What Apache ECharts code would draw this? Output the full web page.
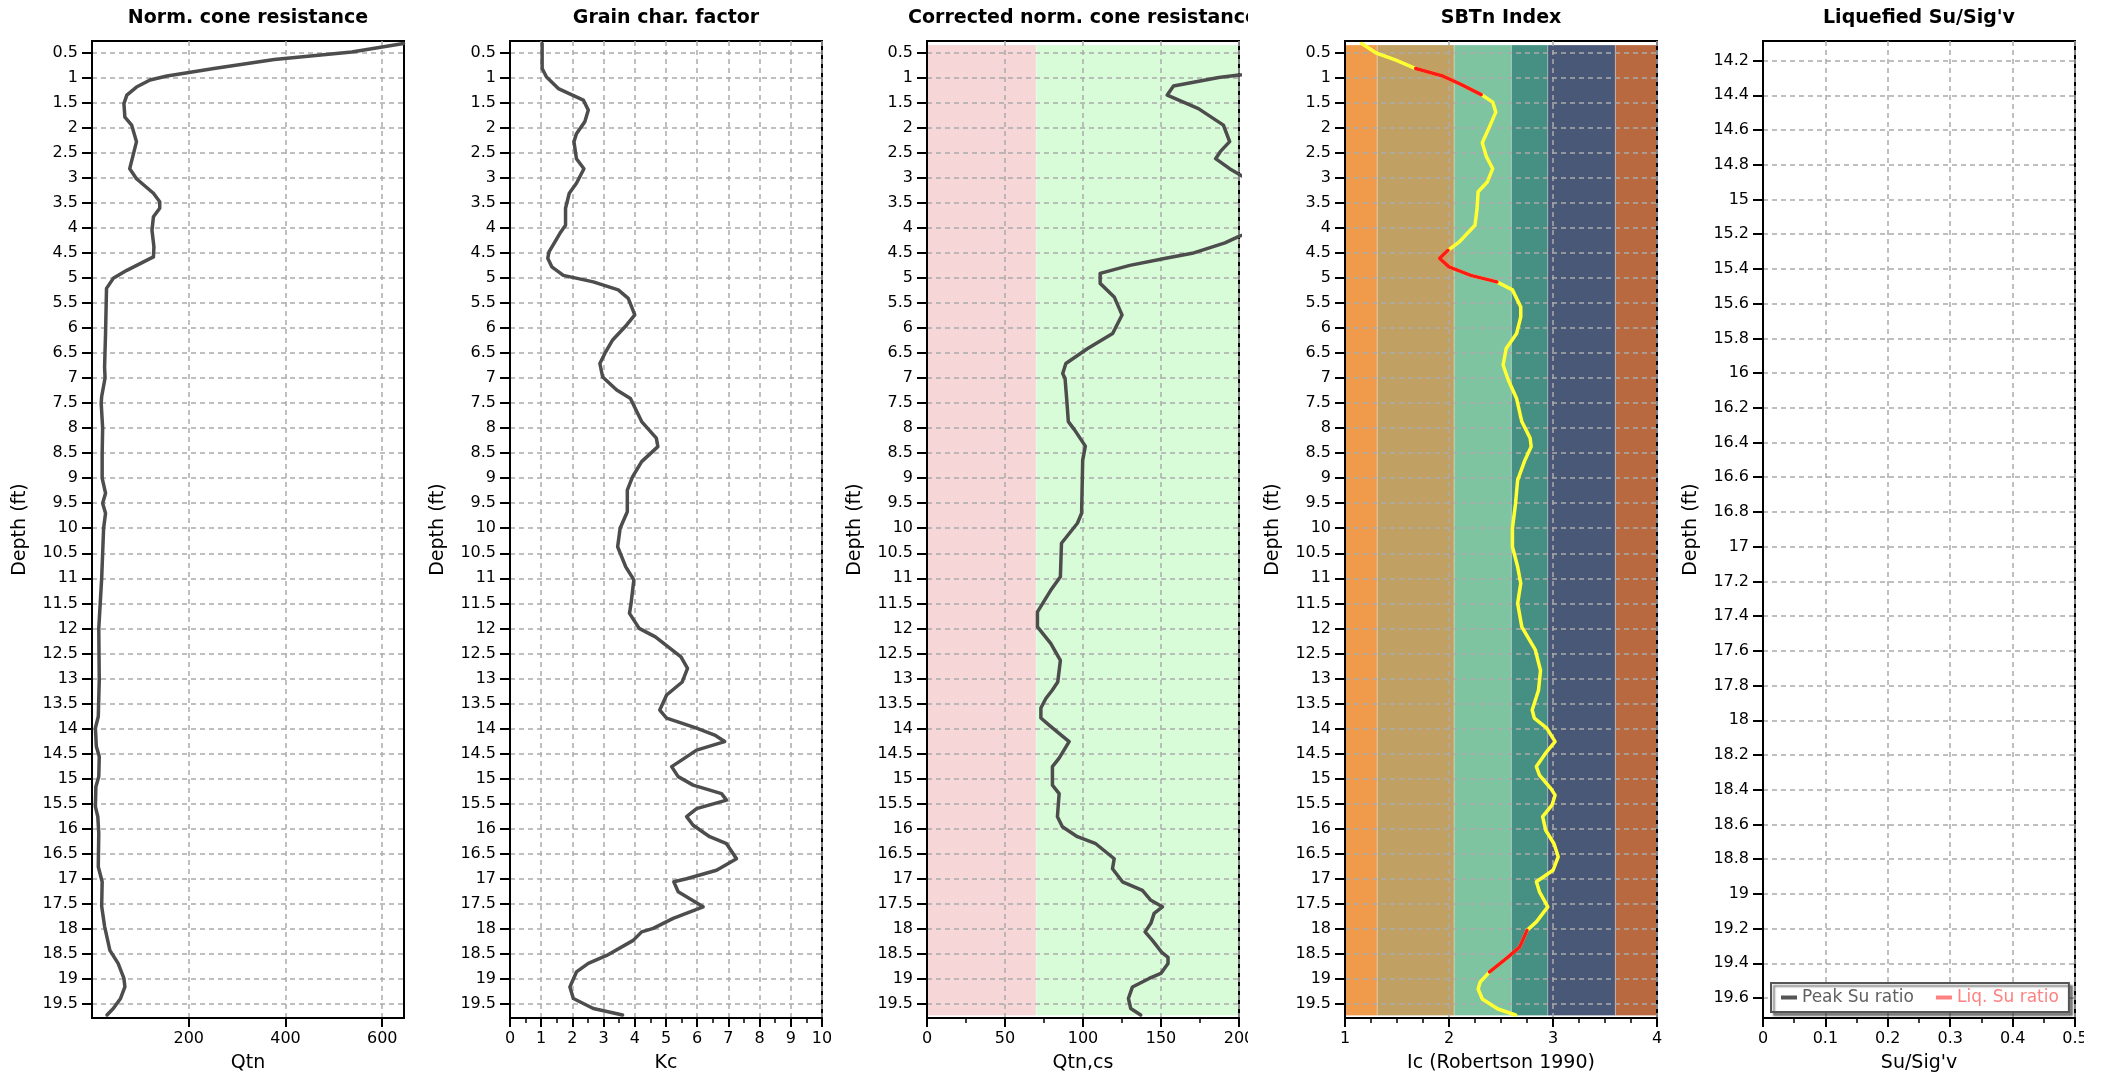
<!DOCTYPE html>
<html><head><meta charset="utf-8">
<script src="https://cdn.jsdelivr.net/npm/echarts@6/dist/echarts.min.js"></script>
<style>
html,body{margin:0;padding:0;background:#fff;width:2109px;height:1081px;overflow:hidden}
.p{position:absolute;top:0;height:1081px;width:413px}
</style></head>
<body>
<div id="p0" class="p" style="left:0px"></div>
<div id="p1" class="p" style="left:418px"></div>
<div id="p2" class="p" style="left:835px"></div>
<div id="p3" class="p" style="left:1253px"></div>
<div id="p4" class="p" style="left:1671px"></div>
<script>
// ---------------- DATA ----------------
const depthTicks = [0.5,1,1.5,2,2.5,3,3.5,4,4.5,5,5.5,6,6.5,7,7.5,8,8.5,9,9.5,10,10.5,11,11.5,12,12.5,13,13.5,14,14.5,15,15.5,16,16.5,17,17.5,18,18.5,19,19.5];
const suDepthTicks = [14.2,14.4,14.6,14.8,15,15.2,15.4,15.6,15.8,16,16.2,16.4,16.6,16.8,17,17.2,17.4,17.6,17.8,18,18.2,18.4,18.6,18.8,19,19.2,19.4,19.6];
const qtnTicks = [200,400,600];

// Panel 1: Norm. cone resistance (Qtn)
const qtnDepth = [0.32,0.49,0.64,0.82,0.97,1.05,1.19,1.35,1.52,1.79,1.95,2.28,2.82,3.02,3.31,3.48,3.61,3.78,4.05,4.38,4.58,4.85,5.01,5.21,6.11,6.78,7.0,7.37,7.5,8.0,8.5,9.0,9.3,9.5,9.7,10.0,10.5,11.0,11.5,12.0,13.03,13.76,13.99,14.36,14.56,14.96,15.16,15.56,15.76,16.09,16.76,17.06,17.55,17.95,18.43,18.69,18.99,19.16,19.39,19.59,19.72];
const qtn = [644,537,377,252,155,120,92,72,66,68,82,92,78,92,127,140,140,127,124,128,127,72,44,30,28,26,27,20,19,22,21,21,28,22,28,24,22,20,17,14,15,13,7,9,15,14,8,7,12,14,13,21,20,26,37,54,66,68,59,44,31];

// Panel 2: Grain char. factor (Kc)
const kcDepth = [0.32,0.82,0.99,1.22,1.45,1.65,1.88,2.12,2.28,2.62,2.82,3.11,3.31,3.61,3.95,4.11,4.28,4.48,4.61,4.78,4.95,5.08,5.24,5.41,5.74,5.94,6.24,6.51,6.71,6.98,7.24,7.41,7.87,8.2,8.37,8.67,8.97,9.24,9.67,10.0,10.37,10.77,11.03,11.5,11.7,12.0,12.17,12.57,12.8,13.07,13.33,13.63,13.79,13.99,14.13,14.26,14.43,14.63,14.76,14.96,15.13,15.3,15.43,15.6,15.76,15.93,16.16,16.3,16.6,16.83,17.0,17.06,17.26,17.56,17.79,17.99,18.06,18.23,18.53,18.69,18.86,19.16,19.39,19.59,19.72];
const kc = [1.03,1.03,1.17,1.55,2.35,2.51,2.40,2.13,2.05,2.13,2.37,2.13,1.90,1.78,1.78,1.60,1.44,1.25,1.21,1.34,1.71,2.67,3.47,3.79,4.0,3.74,3.29,3.04,2.88,2.97,3.42,3.86,4.22,4.69,4.74,4.22,3.93,3.76,3.76,3.53,3.45,3.71,3.97,3.88,3.83,4.14,4.66,5.48,5.69,5.52,5.02,4.80,5.02,5.98,6.56,6.88,5.98,5.50,5.18,5.39,5.87,6.78,6.94,5.98,5.66,5.87,6.40,6.94,7.26,6.62,5.66,5.25,5.39,6.19,5.23,4.59,4.22,3.95,3.10,2.51,2.13,1.92,2.03,2.67,3.61];

// Panel 3: Corrected norm. cone resistance (Qtn,cs)
const qcsDepth = [0.32,0.49,0.64,0.82,0.95,1.0,1.17,1.35,1.62,1.95,2.28,2.48,2.62,2.82,3.02,3.31,3.61,3.95,4.17,4.3,4.51,4.61,4.75,4.91,5.11,5.38,5.74,6.11,6.41,6.71,6.91,7.01,7.44,7.87,8.04,8.36,8.64,9.7,9.9,10.3,10.97,11.24,11.67,11.97,12.3,12.64,13.07,13.23,13.4,13.59,13.79,13.96,14.26,14.59,14.76,15.13,15.3,15.76,15.96,16.16,16.3,16.6,16.8,17.06,17.23,17.43,17.56,17.69,17.89,18.06,18.23,18.47,18.57,18.69,18.89,18.99,19.16,19.39,19.59,19.72];
const qcs = [663,553,388,260,200,187,158,154,174,190,194,188,185,194,205,241,248,220,200,191,170,153,130,111,111,120,125,119,103,89,87,88.5,89.6,90.6,94.7,101.5,99.8,99.1,96.4,86.2,85.5,79.3,70.8,70.8,79.3,85.5,83.8,80.4,76.2,73,73,79.4,91.1,84.7,80.4,80.4,84.7,83.6,86.8,96.4,108.2,120,118.9,125.3,138.1,143.5,150.9,145.6,143.5,139.8,144.5,150.5,154.5,154.5,149.9,142.4,131.7,129.1,130.6,137];
const qcsZones = [0,70,200];          // boundaries of the two zones
const qcsZoneColors = ['#f6d6d6','#d9fcd8'];

// Panel 4: SBTn Index (Ic)
const icDepth = [0.32,0.51,0.65,0.82,0.97,1.12,1.34,1.49,1.69,1.98,2.30,2.58,2.82,3.08,3.28,3.61,3.95,4.28,4.45,4.61,4.78,4.95,5.08,5.24,5.58,5.78,6.11,6.41,6.74,7.04,7.41,7.87,8.2,8.37,8.64,9.04,9.5,10.0,10.37,10.77,11.1,11.5,11.97,12.43,12.84,13.24,13.63,13.79,13.99,14.26,14.46,14.76,14.93,15.2,15.33,15.53,15.76,16.03,16.3,16.56,16.83,17.06,17.26,17.56,17.86,18.03,18.36,18.56,18.76,18.86,19.06,19.2,19.4,19.6,19.72];
const ic = [1.16,1.30,1.49,1.68,1.94,2.10,2.31,2.42,2.45,2.39,2.32,2.36,2.42,2.37,2.28,2.27,2.25,2.10,1.99,1.91,2.00,2.21,2.46,2.61,2.69,2.69,2.65,2.55,2.52,2.57,2.65,2.70,2.78,2.79,2.73,2.66,2.64,2.61,2.61,2.66,2.69,2.66,2.70,2.83,2.88,2.86,2.80,2.82,2.94,3.02,2.94,2.84,2.87,2.98,3.02,2.99,2.90,2.93,3.01,3.05,3.00,2.84,2.87,2.95,2.84,2.75,2.68,2.57,2.45,2.39,2.30,2.28,2.32,2.47,2.64];
const icRedRanges = [[0.82,1.34],[4.45,5.08],[18.03,18.86]];
const icZones = [1,1.31,2.05,2.6,2.95,3.6,4];
const icZoneColors = ['#f09a4b','#c0a063','#7ec4a0','#459082','#4a5878','#b8693f'];
const bandDepthRange = [0.35,19.73];

// Panel 5: Liquefied Su/Sig'v
const suLegend = ['Peak Su ratio','Liq. Su ratio'];
const suColors = ['#555555','#ff8080'];

// ---------------- HELPERS ----------------
const FONT = 'DejaVu Sans';
const pairs = (d, v) => d.map((y, i) => [v[i], y]);

function makeOption(cfg) {
  const tickStyle = {color:'#000', width:2};
  const opt = {
    animation:false,
    textStyle:{fontFamily:FONT},
    title:{text:cfg.title,left:248,top:9,textAlign:'center',padding:0,
      textStyle:{fontFamily:FONT,fontSize:19,fontWeight:'bold',color:'#000'}},
    grid:{left:92,top:41,width:312,height:977,show:true,borderColor:'#000',borderWidth:2,
      backgroundColor:'rgba(0,0,0,0)',containLabel:false,outerBoundsMode:'none'},
    xAxis:{type:'value',position:'bottom',min:cfg.xMin,max:cfg.xMax,interval:cfg.xInterval,
      name:cfg.xName,nameLocation:'middle',nameGap:36,
      nameTextStyle:{fontFamily:FONT,fontSize:19,color:'#000'},
      axisLine:{show:true,onZero:false,lineStyle:{color:'#000',width:2}},
      axisTick:Object.assign({show:true,inside:false,length:9,lineStyle:tickStyle}, cfg.xTicks?{customValues:cfg.xTicks}:{}),
      minorTick:{show:!!cfg.xMinor,splitNumber:cfg.xMinor||2,length:5,lineStyle:{color:'#000',width:1.5}},
      axisLabel:Object.assign({fontFamily:FONT,fontSize:16,color:'#000',margin:13,showMinLabel:true,showMaxLabel:true,hideOverlap:false}, cfg.xTicks?{customValues:cfg.xTicks}:{}),
      splitLine:{show:true,lineStyle:{color:'#aaaaaa',type:[5,4],width:1.5}},
      minorSplitLine:{show:false}},
    yAxis:{type:'value',inverse:true,min:cfg.yMin,max:cfg.yMax,
      name:'Depth (ft)',nameLocation:'middle',nameGap:62,
      nameTextStyle:{fontFamily:FONT,fontSize:19,color:'#000'},
      axisLine:{show:true,onZero:false,lineStyle:{color:'#000',width:2}},
      axisTick:{show:true,inside:false,length:10,lineStyle:tickStyle,customValues:cfg.yTicks},
      axisLabel:{fontFamily:FONT,fontSize:16,color:'#000',margin:14,customValues:cfg.yTicks,hideOverlap:false},
      splitLine:{show:true,lineStyle:{color:'#aaaaaa',type:[5,4],width:1.5}}},
    series:[]
  };
  if (cfg.bands) {
    const areas = [];
    for (let i = 0; i < cfg.bands.colors.length; i++) {
      areas.push([{xAxis:cfg.bands.edges[i], yAxis:bandDepthRange[0], itemStyle:{color:cfg.bands.colors[i],opacity:1,borderWidth:1,borderColor:'rgba(255,255,255,0.25)'}},
                  {xAxis:cfg.bands.edges[i+1], yAxis:bandDepthRange[1]}]);
    }
    opt.series.push({type:'line',data:[],z:-5,silent:true,
      markArea:{z:-5,zlevel:0,silent:true,label:{show:false},emphasis:{disabled:true},data:areas}});
  }
  (cfg.lines||[]).forEach(l => {
    opt.series.push({type:'line',name:l.name,data:l.data,showSymbol:false,symbol:'none',clip:true,
      z:l.z||3,lineStyle:{color:l.color,width:l.width||3.5,cap:'round',join:'round'},
      itemStyle:{color:l.color},emphasis:{disabled:true},silent:true});
  });
  return opt;
}

// ---------------- PANELS ----------------
const opts = [];
opts.push(makeOption({title:'Norm. cone resistance',xName:'Qtn',xMin:0,xMax:645,xInterval:200,xTicks:qtnTicks,
  yMin:0.27,yMax:19.78,yTicks:depthTicks,
  lines:[{data:pairs(qtnDepth,qtn),color:'#4d4d4d'}]}));
opts.push(makeOption({title:'Grain char. factor',xName:'Kc',xMin:0,xMax:10,xInterval:1,xMinor:2,
  yMin:0.27,yMax:19.78,yTicks:depthTicks,
  lines:[{data:pairs(kcDepth,kc),color:'#4d4d4d'}]}));
opts.push(makeOption({title:'Corrected norm. cone resistance',xName:'Qtn,cs',xMin:0,xMax:200,xInterval:50,xMinor:2,
  yMin:0.27,yMax:19.78,yTicks:depthTicks,
  bands:{edges:qcsZones,colors:qcsZoneColors},
  lines:[{data:pairs(qcsDepth,qcs),color:'#4d4d4d'}]}));

const icLines = [{data:pairs(icDepth,ic),color:'#ffff33',z:3}];
icRedRanges.forEach(r => {
  const seg = [];
  icDepth.forEach((d,i) => { if (d >= r[0]-1e-9 && d <= r[1]+1e-9) seg.push([ic[i], d]); });
  icLines.push({data:seg,color:'#ff1a1a',z:4});
});
opts.push(makeOption({title:'SBTn Index',xName:'Ic (Robertson 1990)',xMin:1,xMax:4,xInterval:1,xMinor:4,
  yMin:0.27,yMax:19.78,yTicks:depthTicks,
  bands:{edges:icZones,colors:icZoneColors},
  lines:icLines}));

const o5 = makeOption({title:"Liquefied Su/Sig'v",xName:"Su/Sig'v",xMin:0,xMax:0.5,xInterval:0.1,xMinor:2,
  yMin:14.087,yMax:19.715,yTicks:suDepthTicks,
  lines:[{name:suLegend[0],data:[],color:suColors[0]},{name:suLegend[1],data:[],color:suColors[1]}]});
o5.legend = {show:true,left:100,top:983,orient:'horizontal',padding:[6,10,6,10],itemGap:22,
  icon:'rect',itemWidth:16,itemHeight:4,
  backgroundColor:'#fff',borderColor:'#555',borderWidth:2,
  shadowColor:'rgba(0,0,0,0.45)',shadowBlur:2,shadowOffsetX:3,shadowOffsetY:3,
  textStyle:{fontFamily:FONT,fontSize:17},
  data:[{name:suLegend[0],textStyle:{color:'#606060'}},{name:suLegend[1],textStyle:{color:suColors[1]}}]};
opts.push(o5);

opts.forEach((o,i) => {
  const c = echarts.init(document.getElementById('p'+i), null, {renderer:'canvas'});
  c.setOption(o);
});
</script>
</body></html>
